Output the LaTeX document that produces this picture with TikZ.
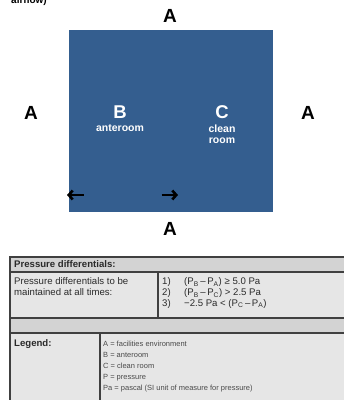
\documentclass[tikz,border=0pt]{standalone}
\usepackage{fontspec}
\setmainfont{Liberation Sans}
\usetikzlibrary{arrows.meta}
\definecolor{roomblue}{HTML}{345E8F}
\definecolor{hdrgray}{HTML}{D3D3D3}
\definecolor{cellgray}{HTML}{E6E6E6}
\definecolor{linegray}{HTML}{404040}
\definecolor{txtgray}{HTML}{2A2A2A}
\definecolor{leggray}{HTML}{4A4A4A}
\tikzset{
  biglabel/.style={font=\fontsize{19}{22}\selectfont\bfseries, text=black, inner sep=0pt},
  roomletter/.style={font=\fontsize{18.5}{20}\selectfont\bfseries, text=white, inner sep=0pt},
  roomname/.style={font=\fontsize{10.5}{11.5}\selectfont\bfseries, text=white, inner sep=0pt, align=center},
  airarrow/.style={line width=2.6pt, -{Straight Barb[length=4pt,width=9pt]}},
  tabtext/.style={font=\fontsize{9.6}{11}\selectfont, text=txtgray, inner sep=0pt, anchor=mid west},
  tabbold/.style={font=\fontsize{9.6}{11}\selectfont\bfseries, text=txtgray, inner sep=0pt, anchor=mid west},
  legtext/.style={font=\fontsize{7.5}{11}\selectfont, text=leggray, inner sep=0pt, anchor=mid west},
  rule/.style={draw=linegray, line width=1.4pt},
}
\begin{document}
\begin{tikzpicture}[x=1pt,y=-1pt]
\path[use as bounding box] (0,0) rectangle (344,400);
\clip (0,0) rectangle (344,400);
% top cut-off caption
\node[font=\fontsize{10}{12}\selectfont\bfseries, inner sep=0pt, anchor=base west] (cap) at (11,3) {airflow)};
% room
\node[fill=roomblue, draw=none, minimum width=204pt, minimum height=182pt, inner sep=0pt] (room) at (171,121) {};
\node[biglabel] (aTop) at (170,16) {A};
\node[biglabel] (aLeft) at (31,113) {A};
\node[biglabel] (aRight) at (308,113) {A};
\node[biglabel] (aBot) at (170,229) {A};
\node[roomletter] (B) at (120,112) {B};
\node[roomname, anchor=north] (ante) at (120,124.5) {anteroom};
\node[roomletter] (C) at (222,112) {C};
\node[roomname, anchor=north] (clean) at (222,124.5) {clean\\room};
% airflow arrows
\coordinate (l1) at (83.5,195);
\coordinate (l2) at (67,195);
\coordinate (r1) at (161.5,195);
\coordinate (r2) at (178,195);
\draw[airarrow] (l1) -- (l2);
\draw[airarrow] (r1) -- (r2);
% table backgrounds
\fill[hdrgray] (10,257) rectangle (360,272);
\fill[cellgray] (10,272) rectangle (360,318);
\fill[hdrgray] (10,318) rectangle (360,333);
\fill[cellgray] (10,333) rectangle (360,410);
% table rules
\draw[rule] (360,257) -- (10,257) -- (10,410);
\draw[rule] (10,272) -- (360,272);
\draw[rule] (10,318) -- (360,318);
\draw[rule] (10,333) -- (360,333);
\draw[rule] (158,272) -- (158,318);
\draw[rule] (100,333) -- (100,410);
% table text
\node[tabbold] (hdr) at (14,265) {Pressure differentials:};
\node[tabtext] (pd1) at (14,282) {Pressure differentials to be};
\node[tabtext] (pd2) at (14,293) {maintained at all times:};
\node[tabtext] (n1) at (162,282) {1)};
\node[tabtext] (n2) at (162,293) {2)};
\node[tabtext] (n3) at (162,303.5) {3)};
\node[tabtext] (e1) at (184,282) {(P\textsubscript{B}\,–\,P\textsubscript{A}) ≥ 5.0 Pa};
\node[tabtext] (e2) at (184,293) {(P\textsubscript{B}\,–\,P\textsubscript{C}) > 2.5 Pa};
\node[tabtext] (e3) at (184,303.5) {−2.5 Pa < (P\textsubscript{C}\,–\,P\textsubscript{A})};
\node[tabbold] (leg) at (14,344) {Legend:};
\node[legtext] (g1) at (103,343.5) {A = facilities environment};
\node[legtext] (g2) at (103,354.5) {B = anteroom};
\node[legtext] (g3) at (103,365.5) {C = clean room};
\node[legtext] (g4) at (103,376.5) {P = pressure};
\node[legtext] (g5) at (103,387.5) {Pa = pascal (SI unit of measure for pressure)};
\end{tikzpicture}
\end{document}
